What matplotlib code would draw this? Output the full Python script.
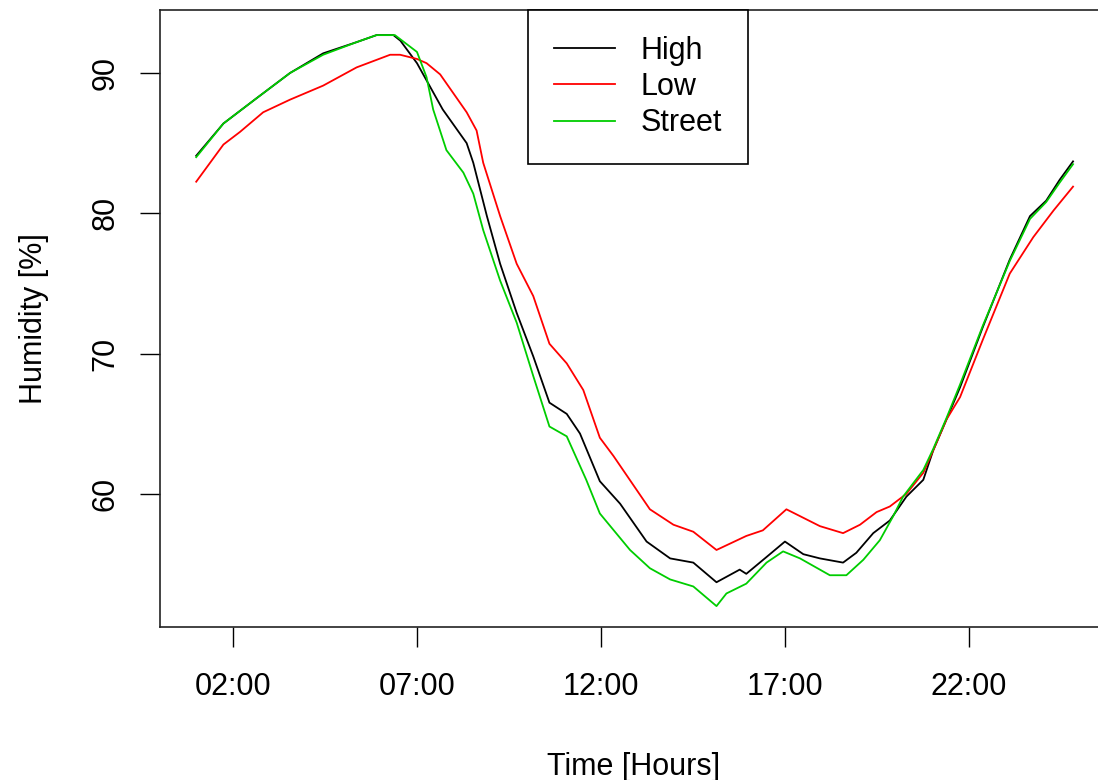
import matplotlib
matplotlib.use("Agg")
import matplotlib.pyplot as plt

plt.rcParams['font.family'] = ['Liberation Sans', 'DejaVu Sans']

# hours since midnight and humidity values
high_t = [1.0, 1.74, 2.64, 3.55, 4.45, 5.36, 5.9, 6.36, 6.55, 7.0, 7.7, 8.35, 8.53,
          8.9, 9.26, 9.71, 10.16, 10.6, 11.07, 11.43, 11.97, 12.52, 13.24, 13.88,
          14.51, 15.14, 15.77, 15.95, 16.5, 17.0, 17.5, 17.95, 18.58, 18.94, 19.4,
          19.85, 20.3, 20.76, 21.03, 21.39, 21.76, 22.38, 23.11, 23.66, 24.1,
          24.47, 24.83]
high_v = [84.1, 86.4, 88.2, 90.0, 91.4, 92.2, 92.7, 92.7, 92.3, 90.7, 87.4, 85.0, 83.6,
          79.8, 76.4, 72.9, 69.8, 66.5, 65.7, 64.3, 60.9, 59.3, 56.6, 55.4,
          55.1, 53.7, 54.6, 54.3, 55.5, 56.6, 55.7, 55.4, 55.1, 55.8, 57.2,
          58.1, 59.8, 61.0, 63.1, 65.3, 67.6, 71.9, 76.7, 79.8, 80.9,
          82.4, 83.7]

low_t = [1.0, 1.74, 2.19, 2.82, 3.55, 4.45, 5.36, 6.27, 6.54, 7.0, 7.26, 7.63, 8.35,
         8.62, 8.8, 9.26, 9.71, 10.16, 10.6, 11.07, 11.52, 11.97, 12.34, 13.33,
         13.97, 14.51, 15.14, 15.95, 16.4, 17.04, 17.95, 18.58, 19.04, 19.49,
         19.85, 20.3, 20.76, 21.03, 21.39, 21.76, 22.38, 23.11, 23.75, 24.3, 24.83]
low_v = [82.25, 84.9, 85.8, 87.2, 88.1, 89.1, 90.4, 91.3, 91.3, 91.0, 90.7, 89.9, 87.2,
         85.9, 83.6, 79.8, 76.4, 74.1, 70.7, 69.3, 67.4, 64.0, 62.7, 58.9,
         57.8, 57.3, 56.0, 57.0, 57.4, 58.9, 57.7, 57.2, 57.8, 58.7,
         59.1, 60.0, 61.5, 63.1, 65.3, 66.9, 71.0, 75.7, 78.3, 80.2, 81.9]

street_t = [1.0, 1.74, 2.64, 3.55, 4.45, 5.36, 5.9, 6.4, 6.7, 7.0, 7.26, 7.44, 7.8,
            8.26, 8.53, 8.8, 9.26, 9.71, 10.16, 10.6, 11.07, 11.6, 11.97, 12.79,
            13.33, 13.88, 14.51, 15.14, 15.41, 15.95, 16.5, 16.95, 17.41, 17.95,
            18.22, 18.67, 19.13, 19.58, 19.94, 20.21, 20.76, 21.03, 21.39, 21.76,
            22.38, 23.11, 23.66, 24.1, 24.47, 24.83]
street_v = [84.0, 86.4, 88.2, 90.0, 91.3, 92.2, 92.7, 92.7, 92.1, 91.5, 89.7, 87.4, 84.5,
            82.9, 81.4, 78.8, 75.2, 72.2, 68.4, 64.8, 64.1, 61.0, 58.6, 56.0,
            54.7, 53.9, 53.4, 52.0, 52.9, 53.6, 55.1, 55.9, 55.4, 54.6,
            54.2, 54.2, 55.3, 56.7, 58.4, 59.8, 61.7, 63.2, 65.4, 67.8,
            72.0, 76.6, 79.6, 80.8, 82.2, 83.5]

tick_hours = [2, 7, 12, 17, 22]
tick_labels = ["02:00", "07:00", "12:00", "17:00", "22:00"]
y_ticks = [60, 70, 80, 90]

fig = plt.figure(figsize=(10.98, 7.80), dpi=100)
# right edge of the plot box lies beyond the picture, as in the original
ax = fig.add_axes([160/1098, 153/780, 948/1098, 617/780])

ax.plot(high_t, high_v, color='black', lw=1.3, label='High')
ax.plot(low_t, low_v, color='#FF0000', lw=1.3, label='Low')
ax.plot(street_t, street_v, color='#00CD00', lw=1.3, label='Street')

ax.set_xlim(0.016, 25.78)
ax.set_ylim(50.51, 94.49)
ax.set_xticks(tick_hours)
ax.set_xticklabels(tick_labels)
ax.set_yticks(y_ticks)
ax.set_yticklabels([str(v) for v in y_ticks], rotation=90, va='center')
ax.tick_params(axis='both', length=14.4, width=1.0, labelsize=22, color='black')
ax.tick_params(axis='x', pad=18)
ax.tick_params(axis='y', pad=14)

ax.set_xlabel('Time [Hours]', fontsize=22, labelpad=36)
ax.set_ylabel('Humidity [%]', fontsize=22, labelpad=30)

for s in ax.spines.values():
    s.set_linewidth(1.2)
    s.set_color('#222222')

leg = ax.legend(loc='upper left', bbox_to_anchor=(0.388, 1.0), borderaxespad=0,
                fontsize=22, frameon=True, fancybox=False, edgecolor='black',
                framealpha=1, handlelength=2.0, handletextpad=0.85,
                borderpad=0.85, labelspacing=0.2)
leg.get_frame().set_linewidth(1.2)

fig.savefig('out.png', dpi=100)
